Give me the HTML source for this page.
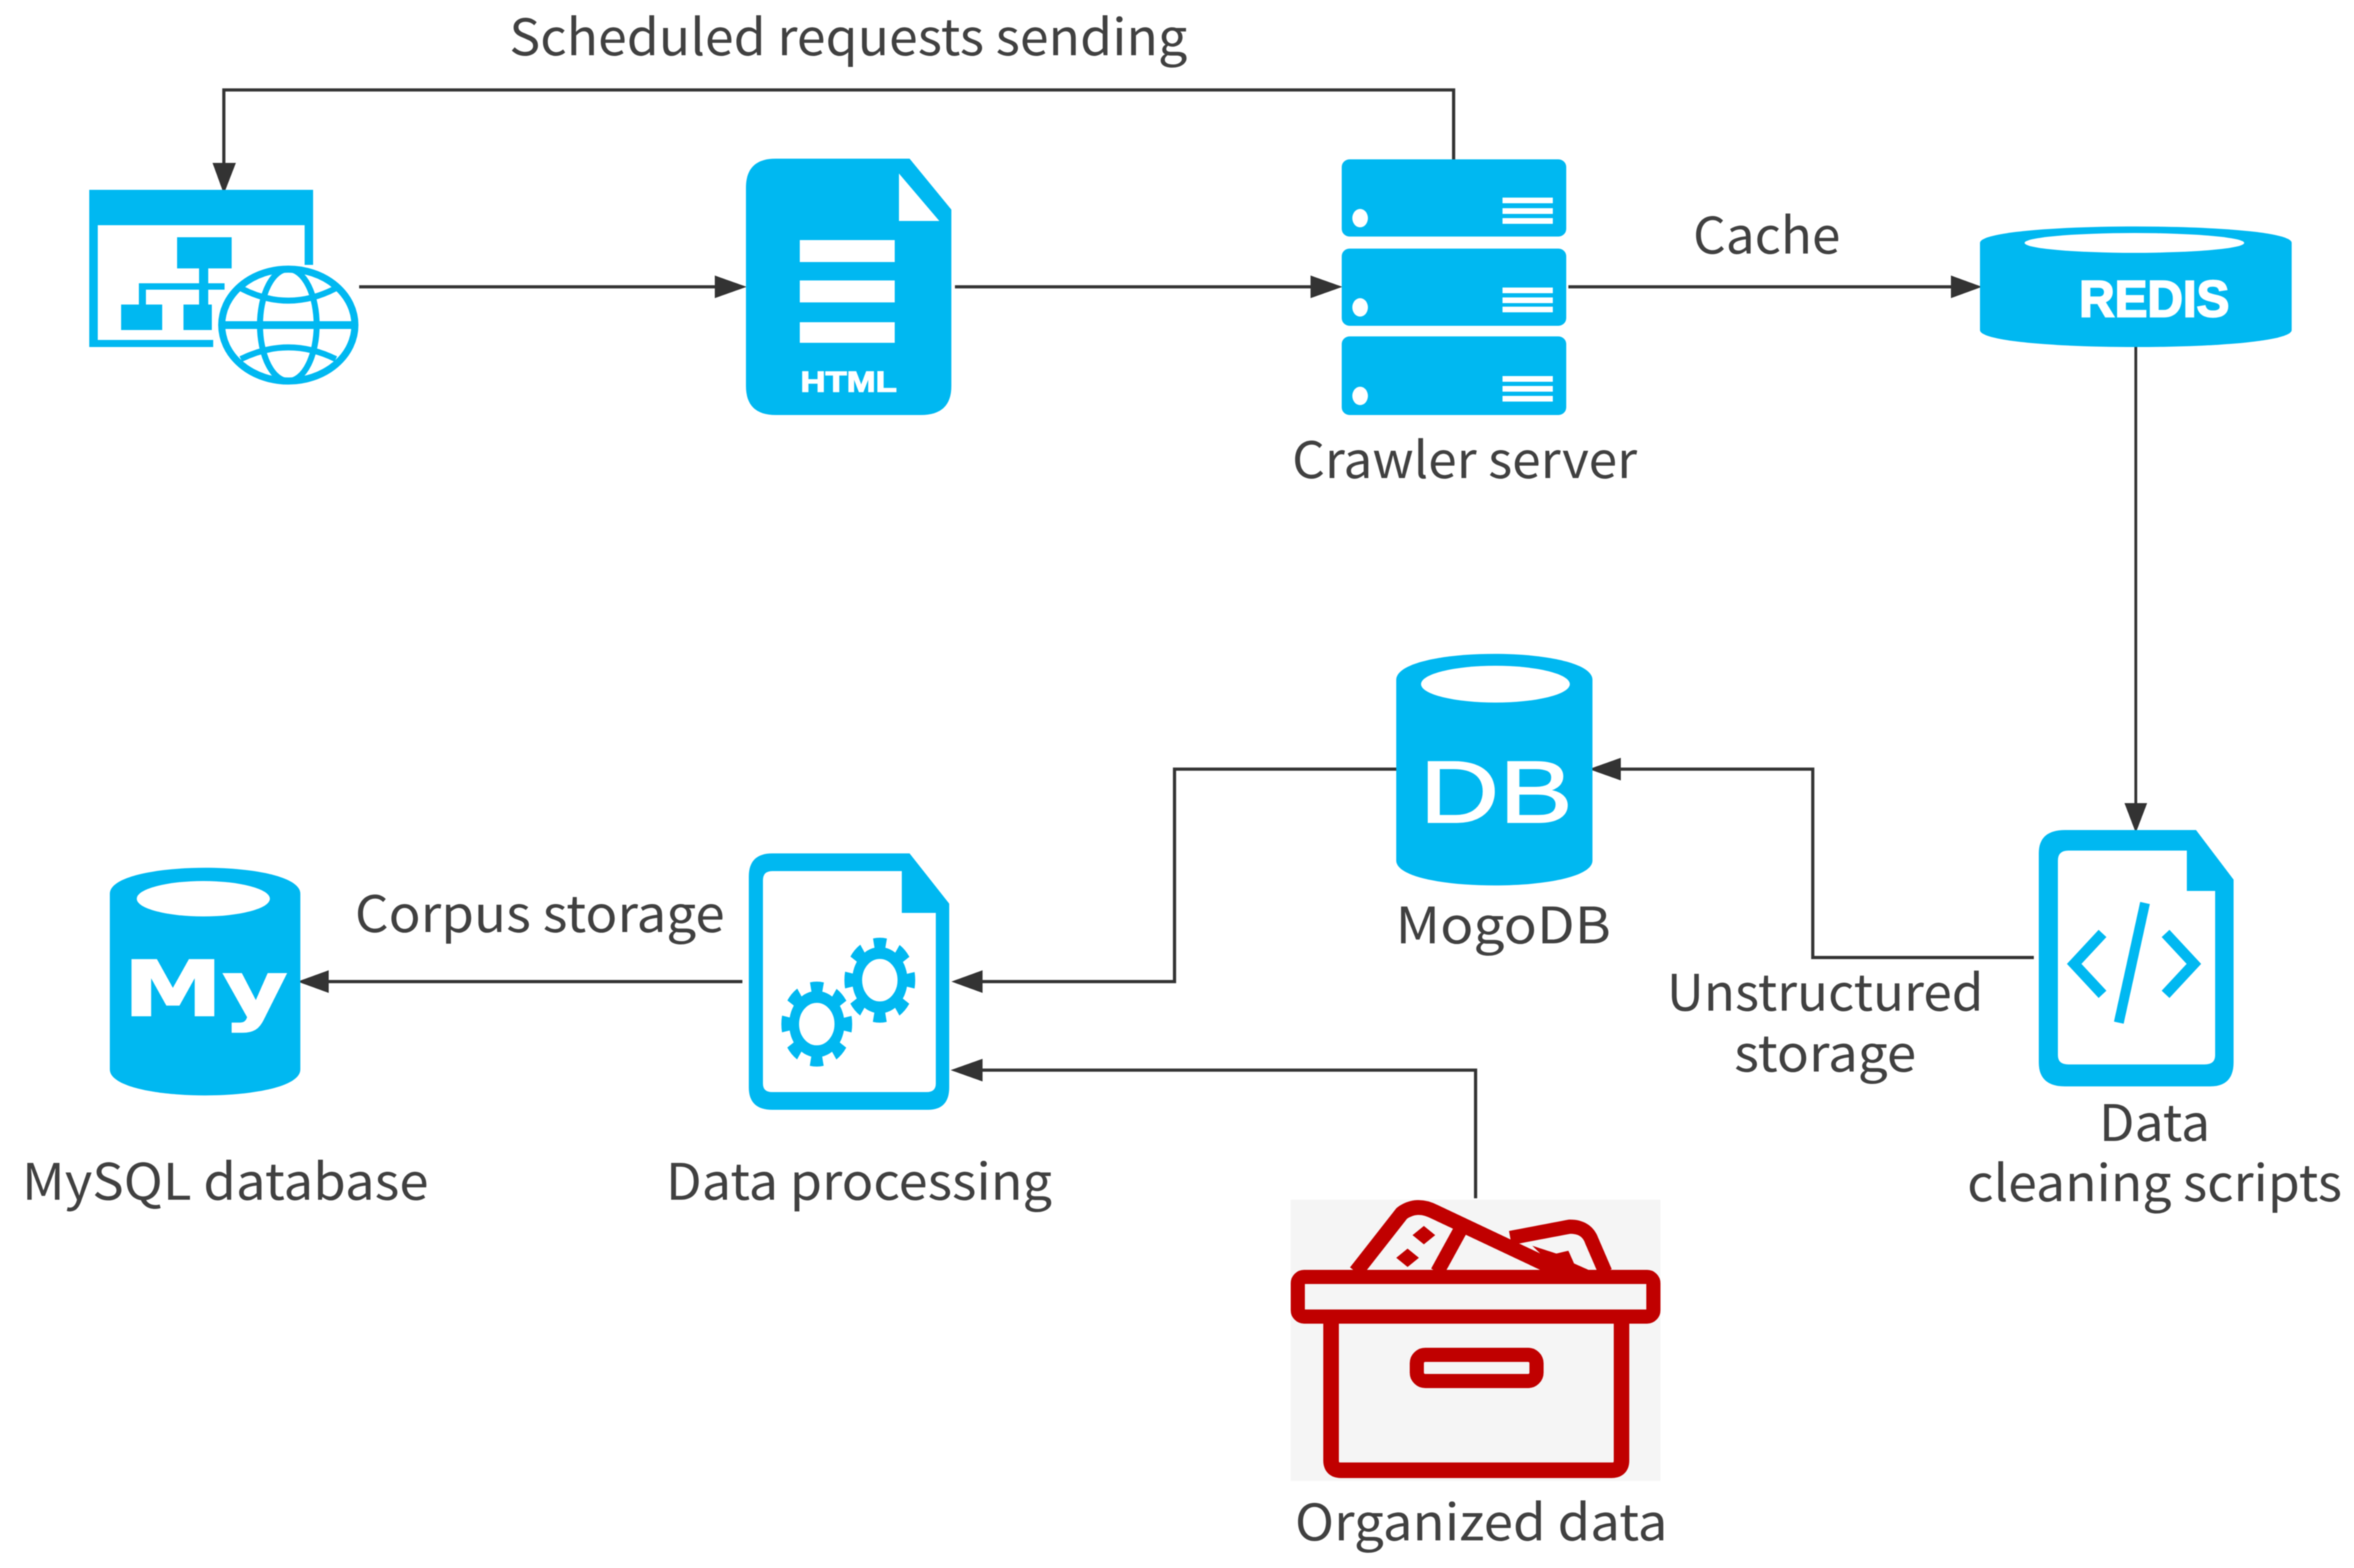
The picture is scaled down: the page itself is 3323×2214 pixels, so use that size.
<!DOCTYPE html>
<html><head><meta charset="utf-8"><title>Crawler pipeline</title>
<style>
html,body{margin:0;padding:0;background:#fff}
svg{display:block;filter:blur(.8px)}
text.l{font-family:"Noto Sans CJK SC","Liberation Sans",sans-serif;font-size:71px;fill:#404040}
text.b{font-family:"Liberation Sans",sans-serif;font-weight:bold;fill:#fff;stroke:#fff;stroke-width:1.5px}
</style></head><body>
<svg width="3323" height="2214" viewBox="0 0 3323 2214" xmlns="http://www.w3.org/2000/svg">
<rect width="3323" height="2214" fill="#fff"/>

<!-- connectors -->
<g fill="none" stroke="#333" stroke-width="4.5">
<path d="M2052,225 V127 H316 V235"/>
<path d="M507,405 H1015"/>
<path d="M1348,405 H1855"/>
<path d="M2214,405 H2760"/>
<path d="M3015,490 V1140" stroke-width="4"/>
<path d="M2871,1352 H2559 V1086 H2282"/>
<path d="M1971,1086 H1658 V1386 H1380"/>
<path d="M2083,1692 V1511 H1380"/>
<path d="M1048,1386 H458"/>
</g>
<g fill="#333">
<polygon points="300,230 333,230 316,274"/>
<polygon points="1009,389 1009,421 1054,405"/>
<polygon points="1850,389 1850,421 1895,405"/>
<polygon points="2754,389 2754,421 2798,405"/>
<polygon points="2999,1134 3031,1134 3015,1176"/>
<polygon points="2288,1070 2288,1102 2243,1086"/>
<polygon points="1387,1370 1387,1402 1343,1386"/>
<polygon points="1387,1495 1387,1527 1342,1511"/>
<polygon points="464,1370 464,1402 420,1386"/>
</g>

<!-- sitemap + globe -->
<g fill="#00B8F1">
<rect x="126" y="268" width="316" height="50"/>
<rect x="126" y="318" width="12" height="172"/>
<rect x="126" y="480" width="175" height="10"/>
<rect x="430" y="318" width="12" height="56"/>
<rect x="250" y="335" width="77" height="44"/>
<rect x="281" y="379" width="13" height="51"/>
<rect x="196" y="400" width="121" height="9"/>
<rect x="196" y="400" width="10" height="30"/>
<rect x="171" y="430" width="58" height="36"/>
<rect x="259" y="430" width="40" height="36"/>
</g>
<g fill="#fff" stroke="#00B8F1" stroke-width="10">
<ellipse cx="407" cy="459" rx="94" ry="79"/>
</g>
<g fill="none" stroke="#00B8F1" stroke-width="8.5">
<ellipse cx="407" cy="459" rx="40" ry="79"/>
<path d="M340,407 Q407,442 474,407"/>
<path d="M340,507 Q407,474 474,507"/>
<path d="M312,459 H502" stroke-width="11"/>
</g>

<!-- HTML doc -->
<path fill="#00B8F1" d="M1095,224 H1284 L1343,296 V545 Q1343,586 1300,586 H1095 Q1053,586 1053,545 V265 Q1053,224 1095,224Z"/>
<polygon fill="#fff" points="1269,245 1326,312 1269,312"/>
<g fill="#fff">
<rect x="1129" y="339" width="134" height="31"/>
<rect x="1129" y="396" width="134" height="31"/>
<rect x="1129" y="455" width="134" height="29"/>
</g>
<text class="b" x="1130" y="553" font-size="41" textLength="136" lengthAdjust="spacingAndGlyphs">HTML</text>

<!-- server -->
<g fill="#00B8F1">
<rect x="1894" y="225" width="317" height="109" rx="11"/>
<rect x="1894" y="351" width="317" height="109" rx="11"/>
<rect x="1894" y="475" width="317" height="111" rx="11"/>
</g>
<g fill="#fff">
<ellipse cx="1920" cy="308" rx="11" ry="13"/>
<ellipse cx="1920" cy="434" rx="11" ry="13"/>
<ellipse cx="1920" cy="559" rx="11" ry="13"/>
<rect x="2121" y="279" width="71" height="8"/><rect x="2121" y="294" width="71" height="8"/><rect x="2121" y="308" width="71" height="8"/>
<rect x="2121" y="406" width="71" height="8"/><rect x="2121" y="420" width="71" height="8"/><rect x="2121" y="433" width="71" height="8"/>
<rect x="2121" y="531" width="71" height="8"/><rect x="2121" y="545" width="71" height="8"/><rect x="2121" y="559" width="71" height="8"/>
</g>

<!-- Redis -->
<path fill="#00B8F1" d="M2795,343 C2795,312 3235,312 3235,343 V466 C3235,498 2795,498 2795,466Z"/>
<ellipse cx="3013" cy="343" rx="155" ry="14" fill="#fff"/>
<text class="b" x="2935" y="447" font-size="72" textLength="212" lengthAdjust="spacingAndGlyphs" style="stroke-width:2.5px">REDIS</text>

<!-- Mongo DB -->
<path fill="#00B8F1" d="M1971,960 C1971,911 2248,911 2248,960 V1215 C2248,1262 1971,1262 1971,1215Z"/>
<ellipse cx="2111" cy="966" rx="105" ry="26" fill="#fff"/>
<text x="2004" y="1161" font-family="'Liberation Sans',sans-serif" font-size="124" fill="#fff" stroke="#fff" stroke-width="2" textLength="216" lengthAdjust="spacingAndGlyphs">DB</text>

<!-- cleaning scripts doc -->
<path fill="#00B8F1" fill-rule="evenodd" d="M2915,1172 H3100 L3153,1242 V1500 Q3153,1534 3120,1534 H2915 Q2878,1534 2878,1500 V1205 Q2878,1172 2915,1172Z M2920,1201 H3087 V1258 H3127 V1490 Q3127,1503 3112,1503 H2920 Q2905,1503 2905,1490 V1215 Q2905,1201 2920,1201Z"/>
<g fill="none" stroke="#00B8F1" stroke-width="15">
<path d="M2968,1318 L2928,1361 L2968,1404"/>
<path d="M3057,1318 L3097,1361 L3057,1404"/>
<path d="M3028,1275 L2991,1444" stroke-width="14"/>
</g>

<!-- data processing doc -->
<path fill="#00B8F1" fill-rule="evenodd" d="M1090,1205 H1284 L1340,1276 V1535 Q1340,1567 1310,1567 H1090 Q1057,1567 1057,1535 V1238 Q1057,1205 1090,1205Z M1090,1230 H1273 V1289 H1321 V1530 Q1321,1542 1308,1542 H1090 Q1077,1542 1077,1530 V1243 Q1077,1230 1090,1230Z"/>
<g fill="none" stroke="#00B8F1">
<g transform="translate(1153,1446) scale(1,1.2)">
<circle r="32" stroke-width="14"/>
<circle r="43" stroke-width="14" stroke-dasharray="17 16.77" stroke-dashoffset="8.5"/>
</g>
<g transform="translate(1242,1384) scale(1,1.2)">
<circle r="32" stroke-width="14"/>
<circle r="43" stroke-width="14" stroke-dasharray="17 16.77" stroke-dashoffset="8.5"/>
</g>
</g>

<!-- MySQL -->
<path fill="#00B8F1" d="M155,1262 C155,1213 424,1213 424,1262 V1510 C424,1559 155,1559 155,1510Z"/>
<ellipse cx="287" cy="1269" rx="94" ry="25" fill="#fff"/>
<text x="174" y="1434" font-family="'DejaVu Sans',sans-serif" font-weight="bold" font-size="108" fill="#fff" stroke="#fff" stroke-width="2" textLength="232" lengthAdjust="spacingAndGlyphs">My</text>

<!-- archive box -->
<rect x="1822" y="1694" width="522" height="397" fill="#f5f5f5"/>
<g fill="none" stroke="#C00000" stroke-width="20" stroke-linejoin="round">
<path d="M1914,1796 L1979,1713 Q2000,1698 2025,1711 L2205,1796" stroke-width="21"/>
<path d="M2063,1734 L2029,1796" stroke-width="20"/>
<path d="M2132,1748 L2216,1732 Q2240,1732 2247,1752 L2266,1796" stroke-width="20"/>
<rect x="1832" y="1803" width="502" height="56" rx="9"/>
<path d="M1879,1859 V2062 Q1879,2076 1893,2076 H2275 Q2289,2076 2289,2062 V1859" stroke-width="22"/>
<rect x="2000" y="1913" width="169" height="37" rx="12" stroke-width="20"/>
</g>
<g fill="#C00000">
<polygon points="2010,1731 2026,1744 2010,1757 1994,1744"/>
<polygon points="1987,1763 2003,1776 1987,1789 1971,1776"/>
<polygon points="2163,1759 2197,1770 2214,1766 2222,1784 2249,1796 2201,1796"/>
</g>

<!-- labels -->
<text class="l" x="719" y="78" textLength="957" lengthAdjust="spacingAndGlyphs">Scheduled requests sending</text>
<text class="l" x="2390" y="358" textLength="208" lengthAdjust="spacingAndGlyphs">Cache</text>
<text class="l" x="1824" y="675" textLength="487" lengthAdjust="spacingAndGlyphs">Crawler server</text>
<text class="l" x="1970" y="1332" textLength="304" lengthAdjust="spacingAndGlyphs">MogoDB</text>
<text class="l" x="2353" y="1427" textLength="447" lengthAdjust="spacingAndGlyphs">Unstructured</text>
<text class="l" x="2448" y="1513" textLength="257" lengthAdjust="spacingAndGlyphs">storage</text>
<text class="l" x="2963" y="1611" textLength="157" lengthAdjust="spacingAndGlyphs">Data</text>
<text class="l" x="2777" y="1696" textLength="529" lengthAdjust="spacingAndGlyphs">cleaning scripts</text>
<text class="l" x="501" y="1316" textLength="522" lengthAdjust="spacingAndGlyphs">Corpus storage</text>
<text class="l" x="31" y="1694" textLength="574" lengthAdjust="spacingAndGlyphs">MySQL database</text>
<text class="l" x="940" y="1694" textLength="545" lengthAdjust="spacingAndGlyphs">Data processing</text>
<text class="l" x="1828" y="2175" textLength="526" lengthAdjust="spacingAndGlyphs">Organized data</text>
</svg>
</body></html>
